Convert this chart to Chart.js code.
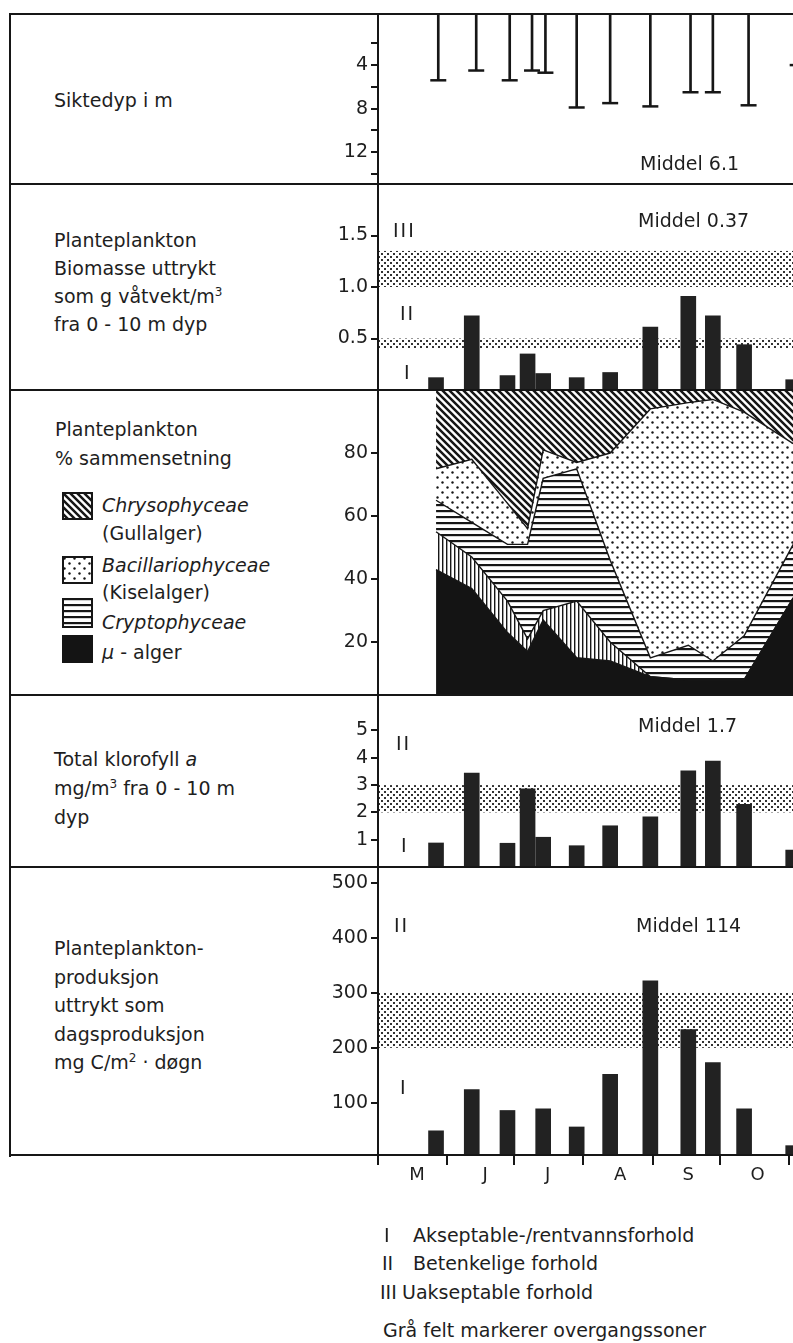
<!DOCTYPE html>
<html lang="no">
<head>
<meta charset="utf-8">
<title>Planteplankton</title>
<script src="https://cdn.jsdelivr.net/npm/chart.js@4.4.1/dist/chart.umd.min.js"></script>
<style>
  html, body { margin:0; padding:0; background:#fff; overflow:hidden; }
  body { width:793px; height:1343px; position:relative;
         font-family:"DejaVu Sans", sans-serif; font-size:19px; color:#1e1e1e; }
  canvas.c { position:absolute; }
  .hl { position:absolute; left:10px; width:790px; height:2px; background:#161616; z-index:3; }
  .vl { position:absolute; left:9px; top:13px; width:2px; height:1144px; background:#161616; z-index:3; }
  .t { position:absolute; white-space:nowrap; line-height:22px; z-index:4; }
  .blk { position:absolute; white-space:nowrap; z-index:4; }
  .it { font-style:italic; }
  .rn { letter-spacing:2px; }
  sup { font-size:12px; vertical-align:7px; line-height:0; }
  canvas.sw { position:absolute; z-index:4; }
</style>
</head>
<body>

<!-- frame lines -->
<div class="vl"></div>
<div class="hl" style="top:13px"></div>
<div class="hl" style="top:183px"></div>
<div class="hl" style="top:389px"></div>
<div class="hl" style="top:694px"></div>
<div class="hl" style="top:866px"></div>
<div class="hl" style="top:1154px"></div>

<!-- left column text -->
<div class="t" style="left:54px;top:89px">Siktedyp i m</div>
<div class="blk" style="left:54px;top:226px;line-height:28px">Planteplankton<br>Biomasse uttrykt<br>som g våtvekt/m<sup>3</sup><br>fra 0 - 10 m dyp</div>
<div class="blk" style="left:55px;top:415px;line-height:29px">Planteplankton<br>% sammensetning</div>

<div class="t it" style="left:102px;top:494px">Chrysophyceae</div>
<div class="t" style="left:102px;top:522px">(Gullalger)</div>
<div class="t it" style="left:102px;top:554px">Bacillariophyceae</div>
<div class="t" style="left:102px;top:581px">(Kiselalger)</div>
<div class="t it" style="left:102px;top:611px">Cryptophyceae</div>
<div class="t" style="left:102px;top:641px"><i>μ</i> - alger</div>

<div class="blk" style="left:54px;top:745px;line-height:29px">Total klorofyll <i>a</i><br>mg/m<sup>3</sup> fra 0 - 10 m<br>dyp</div>
<div class="blk" style="left:54px;top:934px;line-height:28.5px">Planteplankton-<br>produksjon<br>uttrykt som<br>dagsproduksjon<br>mg C/m<sup>2</sup> · døgn</div>

<!-- in-chart annotations -->
<div class="t" style="left:640px;top:152px">Middel 6.1</div>
<div class="t" style="left:638px;top:209px">Middel 0.37</div>
<div class="t rn" style="left:393px;top:219px">III</div>
<div class="t rn" style="left:400px;top:302px">II</div>
<div class="t" style="left:404px;top:361px">I</div>

<div class="t" style="left:638px;top:714px">Middel 1.7</div>
<div class="t rn" style="left:396px;top:732px">II</div>
<div class="t" style="left:401px;top:834px">I</div>

<div class="t" style="left:636px;top:914px">Middel 114</div>
<div class="t rn" style="left:394px;top:914px">II</div>
<div class="t" style="left:400px;top:1076px">I</div>

<!-- footnotes -->
<div class="t" style="left:384px;top:1224px">I</div>
<div class="t" style="left:413px;top:1224px">Akseptable-/rentvannsforhold</div>
<div class="t" style="left:382px;top:1252px">II</div>
<div class="t" style="left:413px;top:1252px">Betenkelige forhold</div>
<div class="t" style="left:380px;top:1281px">III</div>
<div class="t" style="left:402px;top:1281px">Uakseptable forhold</div>
<div class="t" style="left:383px;top:1319px">Grå felt markerer overgangssoner</div>

<script>
// ---------------- DATA ----------------
// days counted from 1 May
const sampleDays   = [26, 42, 58, 67, 74, 89, 104, 122, 139, 150, 164, 186];
const secchiDays   = [27, 44, 59, 69, 75, 89, 104, 122, 140, 150, 166, 188];
const secchiDepth  = [5.4, 4.5, 5.4, 4.5, 4.7, 7.9, 7.5, 7.8, 6.5, 6.5, 7.7, 4.0];
const biomass      = [0.12, 0.72, 0.14, 0.35, 0.16, 0.12, 0.17, 0.61, 0.91, 0.72, 0.44, 0.10];
const chlorophyll  = [0.88, 3.44, 0.87, 2.86, 1.09, 0.78, 1.51, 1.84, 3.52, 3.88, 2.30, 0.62];
const production   = [49, 124, 86, null, 89, 56, 152, 322, 233, 173, 89, 22];

// composition, % per sample (bottom to top)
const muAlger      = [43, 37, 23, 17, 27, 15, 14, 9, 8, 8, 8, 34];
const otherAlgae   = [12, 10, 10, 4, 3, 18, 6, 0, 0, 0, 0, 0];
const cryptophyceae= [10, 11, 18, 30, 42, 42, 26, 6, 11, 6, 14, 17];
const bacillario   = [10, 20, 13, 5, 9, 2, 34, 79, 77, 83, 71, 32];
const chrysophyceae= [25, 22, 36, 44, 19, 23, 20, 6, 4, 3, 7, 17];

// axes
const monthStarts    = [0, 31, 61, 92, 123, 153, 184];
const monthLabelDays = [17.5, 48, 76, 108.5, 139, 170];
const monthLabels    = ['M', 'J', 'J', 'A', 'S', 'O'];
const secchiTicks    = [2, 4, 6, 8, 10, 12, 14];
const secchiLabeled  = [4, 8, 12];
const biomassTicks   = [0.5, 1.0, 1.5];
const compTicks      = [20, 40, 60, 80];
const chlTicks       = [1, 2, 3, 4, 5];
const prodTicks      = [100, 200, 300, 400, 500];

// grey transition zones
const biomassBands = [[0.4, 0.5], [1.0, 1.35]];
const chlBands     = [[2, 3]];
const prodBands    = [[200, 300]];

// axis ranges
const X_MAX = 198;
const secchiRange  = [-0.7, 14.94];
const biomassRange = [0, 2.0];
const compRange    = [3.2, 100];
const chlRange     = [0, 6.3];
const prodRange    = [5, 529];

// ---------------- STYLE ----------------
const INK = '#161616';
const BAR = '#222222';
Chart.defaults.font.family = "'DejaVu Sans', sans-serif";
Chart.defaults.font.size = 19;
Chart.defaults.color = '#1e1e1e';
Chart.defaults.animation = false;

function makePattern(w, h, draw) {
  const c = document.createElement('canvas');
  c.width = w; c.height = h;
  const g = c.getContext('2d');
  g.fillStyle = '#fff'; g.fillRect(0, 0, w, h);
  draw(g, w, h);
  return g.createPattern(c, 'repeat');
}
const pat = {
  stipple: makePattern(6, 6, g => { g.fillStyle = '#333'; g.fillRect(0, 0, 2, 2); g.fillRect(3, 3, 2, 2); }),
  diag: makePattern(7, 7, g => {
    g.strokeStyle = INK; g.lineWidth = 2.5; g.lineCap = 'square'; g.beginPath();
    for (const o of [-7, 0, 7]) { g.moveTo(o - 1, -1); g.lineTo(o + 8, 8); }
    g.stroke();
  }),
  dots: makePattern(10, 10, g => {
    g.fillStyle = INK;
    g.beginPath(); g.arc(2.5, 2.5, 1.2, 0, Math.PI * 2); g.fill();
    g.beginPath(); g.arc(7.5, 7.5, 1.2, 0, Math.PI * 2); g.fill();
  }),
  horiz: makePattern(6, 6, g => { g.fillStyle = INK; g.fillRect(0, 0, 6, 2.2); }),
  vert: makePattern(4, 4, g => { g.fillStyle = INK; g.fillRect(0, 0, 1.4, 4); }),
  black: '#141414'
};

const bandPlugin = {
  id: 'bands',
  beforeDatasetsDraw(chart, args, opts) {
    const bands = (opts && opts.list) || [];
    const { ctx, chartArea, scales: { y } } = chart;
    ctx.save();
    ctx.fillStyle = pat.stipple;
    for (const [lo, hi] of bands) {
      const y1 = y.getPixelForValue(hi), y2 = y.getPixelForValue(lo);
      ctx.fillRect(chartArea.left + 1, y1, chartArea.right - chartArea.left, y2 - y1);
    }
    ctx.restore();
  }
};

function xHidden() {
  return { type: 'linear', min: 0, max: X_MAX, display: false, offset: false, grid: { offset: false } };
}
function yAxis(range, ticks, labelFn, extra) {
  return Object.assign({
    type: 'linear', min: range[0], max: range[1],
    afterBuildTicks: s => { s.ticks = ticks.map(v => ({ value: v })); },
    afterFit: s => { s.width = 48; s.paddingTop = 0; s.paddingBottom = 0; s.paddingLeft = 0; s.paddingRight = 0; },
    border: { display: true, color: INK, width: 2 },
    grid: { drawOnChartArea: false, drawTicks: true, tickLength: 7, tickColor: INK, lineWidth: 2 },
    ticks: { color: '#1e1e1e', font: { size: 19 }, padding: 3, autoSkip: false, callback: labelFn }
  }, extra || {});
}
function makeChart(left, top, w, h, config) {
  const cv = document.createElement('canvas');
  cv.className = 'c';
  cv.width = w; cv.height = h;
  cv.style.left = left + 'px'; cv.style.top = top + 'px';
  cv.style.width = w + 'px'; cv.style.height = h + 'px';
  document.body.appendChild(cv);
  const o = config.options || {};
  o.responsive = false; o.animation = false; o.devicePixelRatio = 1;
  o.layout = { padding: 0, autoPadding: false }; o.events = [];
  o.plugins = Object.assign({ legend: { display: false }, tooltip: { enabled: false } }, o.plugins || {});
  config.options = o;
  return new Chart(cv.getContext('2d'), config);
}
const pts = (days, vals) => days.map((d, i) => ({ x: d, y: vals[i] }));
const fmt1 = v => v.toFixed(1);

// ---------- Panel 1: Siktedyp ----------
makeChart(330, 14, 490, 170, {
  type: 'bar',
  data: { datasets: [
    { type: 'bar', data: pts(secchiDays, secchiDepth), base: secchiRange[0],
      barThickness: 2, backgroundColor: INK, borderWidth: 0 },
    { type: 'scatter', data: pts(secchiDays, secchiDepth), pointStyle: 'line',
      pointRadius: 8, borderColor: INK, backgroundColor: INK, borderWidth: 2.5 }
  ]},
  options: { scales: {
    x: xHidden(),
    y: yAxis(secchiRange, secchiTicks, v => secchiLabeled.includes(v) ? String(v) : '', { reverse: true })
  }}
});

// ---------- Panel 2: Biomasse ----------
makeChart(330, 184, 490, 206, {
  type: 'bar',
  data: { datasets: [
    { data: pts(sampleDays, biomass), barThickness: 15, backgroundColor: BAR, borderWidth: 0 }
  ]},
  options: {
    scales: { x: xHidden(), y: yAxis(biomassRange, biomassTicks, fmt1) },
    plugins: { bands: { list: biomassBands } }
  },
  plugins: [bandPlugin]
});

// ---------- Panel 3: % sammensetning ----------
const compLayers = [
  { vals: muAlger,       bg: pat.black, fill: 'start' },
  { vals: otherAlgae,    bg: pat.vert,  fill: '-1' },
  { vals: cryptophyceae, bg: pat.horiz, fill: '-1' },
  { vals: bacillario,    bg: pat.dots,  fill: '-1' },
  { vals: chrysophyceae, bg: pat.diag,  fill: '-1' }
];
makeChart(330, 390, 490, 305, {
  type: 'line',
  data: { datasets: compLayers.map(l => ({
    data: pts(sampleDays, l.vals), backgroundColor: l.bg, fill: l.fill,
    borderColor: INK, borderWidth: 1.4, pointRadius: 0, tension: 0
  }))},
  options: { scales: {
    x: xHidden(),
    y: yAxis(compRange, compTicks, v => String(v), { stacked: true })
  }}
});

// ---------- Panel 4: Klorofyll ----------
makeChart(330, 695, 490, 172, {
  type: 'bar',
  data: { datasets: [
    { data: pts(sampleDays, chlorophyll), barThickness: 15, backgroundColor: BAR, borderWidth: 0 }
  ]},
  options: {
    scales: { x: xHidden(), y: yAxis(chlRange, chlTicks, v => String(v)) },
    plugins: { bands: { list: chlBands } }
  },
  plugins: [bandPlugin]
});

// ---------- Panel 5: Produksjon + month axis ----------
const monthTickVals = monthStarts.concat(monthLabelDays).sort((a, b) => a - b);
makeChart(330, 867, 490, 333, {
  type: 'bar',
  data: { datasets: [
    { data: pts(sampleDays, production), barThickness: 15, backgroundColor: BAR, borderWidth: 0 }
  ]},
  options: {
    scales: {
      x: {
        type: 'linear', min: 0, max: X_MAX, offset: false, position: 'bottom',
        afterBuildTicks: s => { s.ticks = monthTickVals.map(v => ({ value: v })); },
        afterFit: s => { s.height = 45; s.paddingLeft = 0; s.paddingRight = 0; },
        border: { display: true, color: INK, width: 2 },
        grid: { drawOnChartArea: false, offset: false, tickLength: 10, lineWidth: 2,
                tickColor: c => (c.tick && monthStarts.includes(c.tick.value)) ? INK : 'rgba(0,0,0,0)' },
        ticks: { autoSkip: false, maxRotation: 0, minRotation: 0, padding: 0,
                 font: { size: 18 }, color: '#1e1e1e',
                 callback: v => { const i = monthLabelDays.indexOf(v); return i >= 0 ? monthLabels[i] : ''; } }
      },
      y: yAxis(prodRange, prodTicks, v => String(v))
    },
    plugins: { bands: { list: prodBands } }
  },
  plugins: [bandPlugin]
});

// ---------- legend swatches ----------
function swatch(left, top, w, h, fill, border) {
  const c = document.createElement('canvas');
  c.className = 'sw'; c.width = w; c.height = h;
  c.style.left = left + 'px'; c.style.top = top + 'px';
  document.body.appendChild(c);
  const g = c.getContext('2d');
  g.fillStyle = fill; g.fillRect(0, 0, w, h);
  if (border) { g.strokeStyle = INK; g.lineWidth = 2; g.strokeRect(1, 1, w - 2, h - 2); }
}
swatch(62, 492, 31, 28, pat.diag, true);
swatch(62, 556, 31, 28, pat.dots, true);
swatch(62, 598, 31, 30, pat.horiz, true);
swatch(62, 635, 31, 28, pat.black, false);
</script>
</body>
</html>
